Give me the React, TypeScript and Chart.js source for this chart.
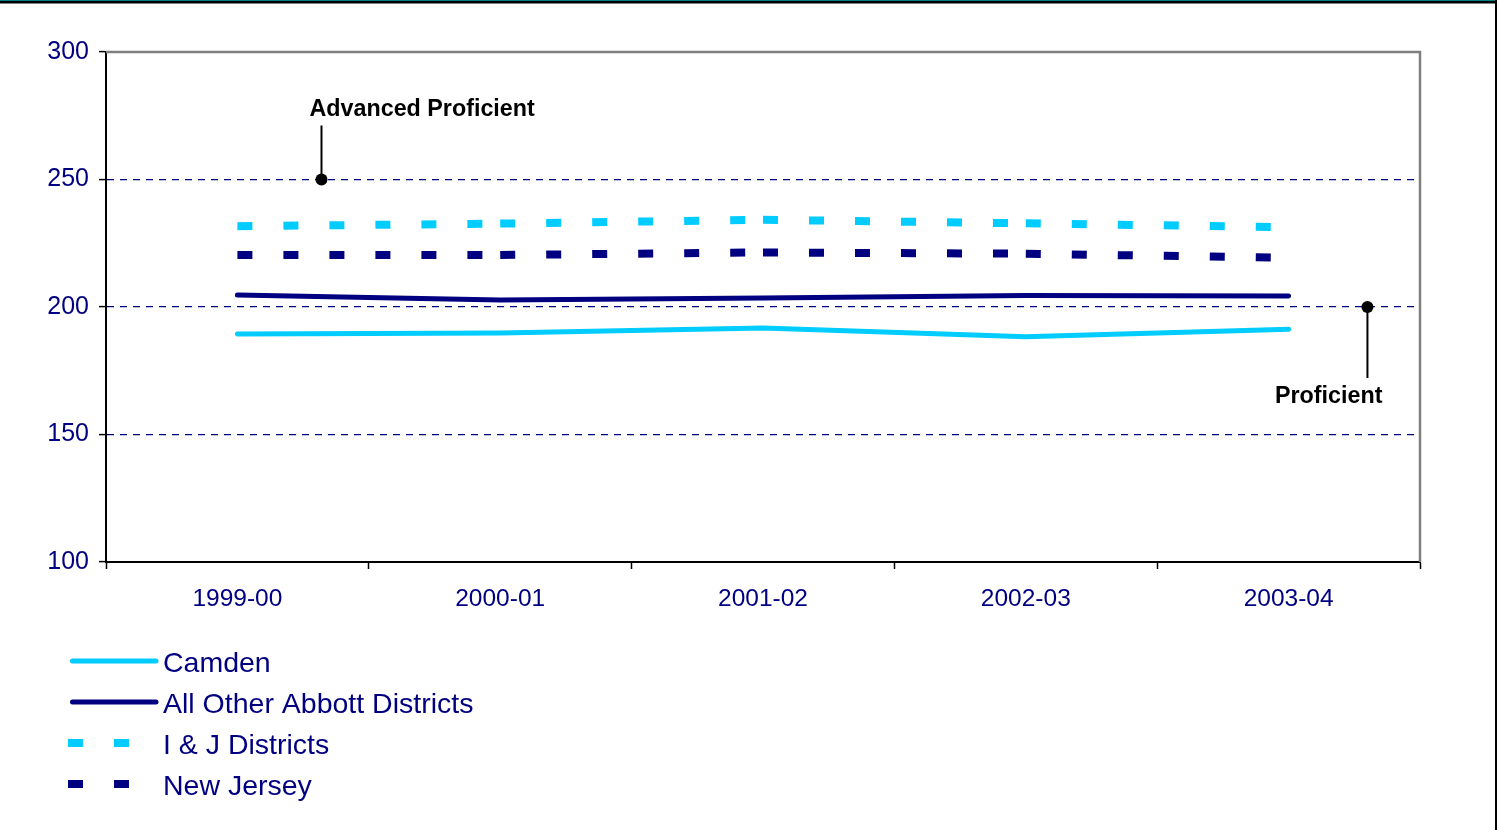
import React, { useEffect, useRef } from 'react';
import { Chart, registerables } from 'chart.js';

Chart.register(...registerables);

const years = ['1999-00', '2000-01', '2001-02', '2002-03', '2003-04'];
const camden = [189.4, 189.8, 191.8, 188.3, 191.3];
const abbott = [204.7, 202.7, 203.5, 204.5, 204.3];
const ijDistricts = [231.7, 232.7, 234.2, 232.8, 231.3];
const newJersey = [220.4, 220.4, 221.4, 220.9, 219.3];
const seriesNames = ['Camden', 'All Other Abbott Districts', 'I & J Districts', 'New Jersey'];
const yMin = 100;
const yMax = 300;
const yStep = 50;
const annotLabels = ['Advanced Proficient', 'Proficient'];
const annotX = [0.32, 4.3];
const annotY = [250, 200];

const FONT = '"Liberation Sans", Arial, sans-serif';
const NAVY = '#000080';
const CYAN = '#00CCFF';

const restartDash = {
  borderDashOffset: (c: any) => (c.p0DataIndex % 2 ? 0.001 : 0),
};

const framePlugin = {
  id: 'frame',
  afterDraw(chart: any) {
    const { ctx, chartArea } = chart;
    ctx.save();
    ctx.fillStyle = '#008080';
    ctx.fillRect(0, 0, 1497, 1);
    ctx.fillStyle = '#000000';
    ctx.fillRect(0, 1, 1497, 2.5);
    ctx.fillRect(1495, 0, 2, 830);
    ctx.strokeStyle = '#808080';
    ctx.lineWidth = 2.5;
    ctx.beginPath();
    ctx.moveTo(chartArea.left, chartArea.top);
    ctx.lineTo(chartArea.right, chartArea.top);
    ctx.lineTo(chartArea.right, chartArea.bottom);
    ctx.stroke();
    ctx.restore();
  },
};

const annotationPlugin = {
  id: 'annots',
  afterDraw(chart: any) {
    const { ctx } = chart;
    const xs = chart.scales.x;
    const ys = chart.scales.y;
    ctx.save();
    ctx.font = `bold 23.3px ${FONT}`;
    ctx.fillStyle = '#000';
    ctx.strokeStyle = '#000';
    ctx.lineWidth = 2;
    annotLabels.forEach((label, i) => {
      const px = xs.getPixelForValue(annotX[i]);
      const py = ys.getPixelForValue(annotY[i]);
      ctx.beginPath();
      if (i === 0) {
        ctx.moveTo(px, py - 54);
        ctx.lineTo(px, py);
        ctx.stroke();
        ctx.textAlign = 'left';
        ctx.textBaseline = 'alphabetic';
        ctx.fillText(label, px - 12, py - 64);
      } else {
        ctx.moveTo(px, py);
        ctx.lineTo(px, py + 71);
        ctx.stroke();
        ctx.textAlign = 'right';
        ctx.textBaseline = 'alphabetic';
        ctx.fillText(label, px + 15, py + 96);
      }
      ctx.beginPath();
      ctx.arc(px, py, 6, 0, Math.PI * 2);
      ctx.fill();
    });
    ctx.restore();
  },
};

const legendPlugin = {
  id: 'customLegend',
  afterDraw(chart: any) {
    const { ctx } = chart;
    chart.data.datasets.forEach((ds: any, i: number) => {
      const lineY = 661 + i * 41;
      const textY = 672 + i * 41;
      ctx.save();
      ctx.strokeStyle = ds.borderColor;
      ctx.lineWidth = ds.borderWidth;
      ctx.beginPath();
      if (ds.borderDash && ds.borderDash.length) {
        ctx.setLineDash(ds.borderDash);
        ctx.lineCap = 'butt';
        ctx.moveTo(68, lineY);
        ctx.lineTo(158, lineY);
      } else {
        ctx.lineCap = 'round';
        ctx.moveTo(72.5, lineY);
        ctx.lineTo(156, lineY);
      }
      ctx.stroke();
      ctx.setLineDash([]);
      ctx.fillStyle = NAVY;
      ctx.font = `28.5px ${FONT}`;
      ctx.textAlign = 'left';
      ctx.textBaseline = 'alphabetic';
      ctx.fillText(ds.label, 163, textY);
      ctx.restore();
    });
  },
};

export default function App() {
  const ref = useRef<HTMLCanvasElement>(null);

  useEffect(() => {
    const chart = new Chart(ref.current as HTMLCanvasElement, {
      type: 'line',
      data: {
        labels: years,
        datasets: [
          {
            label: seriesNames[0],
            data: camden,
            borderColor: CYAN,
            backgroundColor: CYAN,
            borderWidth: 5,
            borderCapStyle: 'round',
            borderJoinStyle: 'round',
            pointRadius: 0,
            tension: 0,
          },
          {
            label: seriesNames[1],
            data: abbott,
            borderColor: NAVY,
            backgroundColor: NAVY,
            borderWidth: 5,
            borderCapStyle: 'round',
            borderJoinStyle: 'round',
            pointRadius: 0,
            tension: 0,
          },
          {
            label: seriesNames[2],
            data: ijDistricts,
            borderColor: CYAN,
            backgroundColor: CYAN,
            borderWidth: 8,
            borderDash: [15, 31],
            borderCapStyle: 'butt',
            pointRadius: 0,
            tension: 0,
            segment: restartDash,
          },
          {
            label: seriesNames[3],
            data: newJersey,
            borderColor: NAVY,
            backgroundColor: NAVY,
            borderWidth: 8,
            borderDash: [15, 31],
            borderCapStyle: 'butt',
            pointRadius: 0,
            tension: 0,
            segment: restartDash,
          },
        ],
      } as any,
      options: {
        animation: false,
        responsive: false,
        devicePixelRatio: 1,
        events: [],
        layout: { padding: { left: 0, top: 52, right: 77, bottom: 208 } },
        plugins: {
          legend: { display: false },
          tooltip: { enabled: false },
          title: { display: false },
        },
        scales: {
          x: {
            offset: true,
            afterFit: (s: any) => {
              s.height = 60;
            },
            grid: {
              offset: true,
              drawOnChartArea: false,
              drawTicks: true,
              tickLength: 7,
              tickColor: '#000',
              tickWidth: 1.5,
              color: '#000',
            },
            border: { display: true, color: '#000', width: 2 },
            ticks: {
              color: NAVY,
              font: { family: FONT, size: 24.5 },
              padding: 16,
              maxRotation: 0,
              autoSkip: false,
            },
          },
          y: {
            min: yMin,
            max: yMax,
            afterFit: (s: any) => {
              s.width = 106;
            },
            grid: {
              color: (c: any) =>
                c.tick && c.tick.value > yMin && c.tick.value < yMax ? NAVY : 'rgba(0,0,0,0)',
              lineWidth: 1.2,
              drawTicks: true,
              tickLength: 7,
              tickColor: '#000',
              tickWidth: 1.5,
              tickBorderDash: [],
            },
            border: { display: true, color: '#000', width: 2, dash: [7, 6] },
            ticks: {
              stepSize: yStep,
              color: NAVY,
              font: { family: FONT, size: 25 },
              padding: 10,
            },
          },
        },
      } as any,
      plugins: [framePlugin, annotationPlugin, legendPlugin],
    });
    return () => chart.destroy();
  }, []);

  return (
    <div style={{ position: 'fixed', left: 0, top: 0, width: 1497, height: 830, background: '#fff' }}>
      <canvas ref={ref} width={1497} height={830} style={{ display: 'block', width: 1497, height: 830 }} />
    </div>
  );
}
